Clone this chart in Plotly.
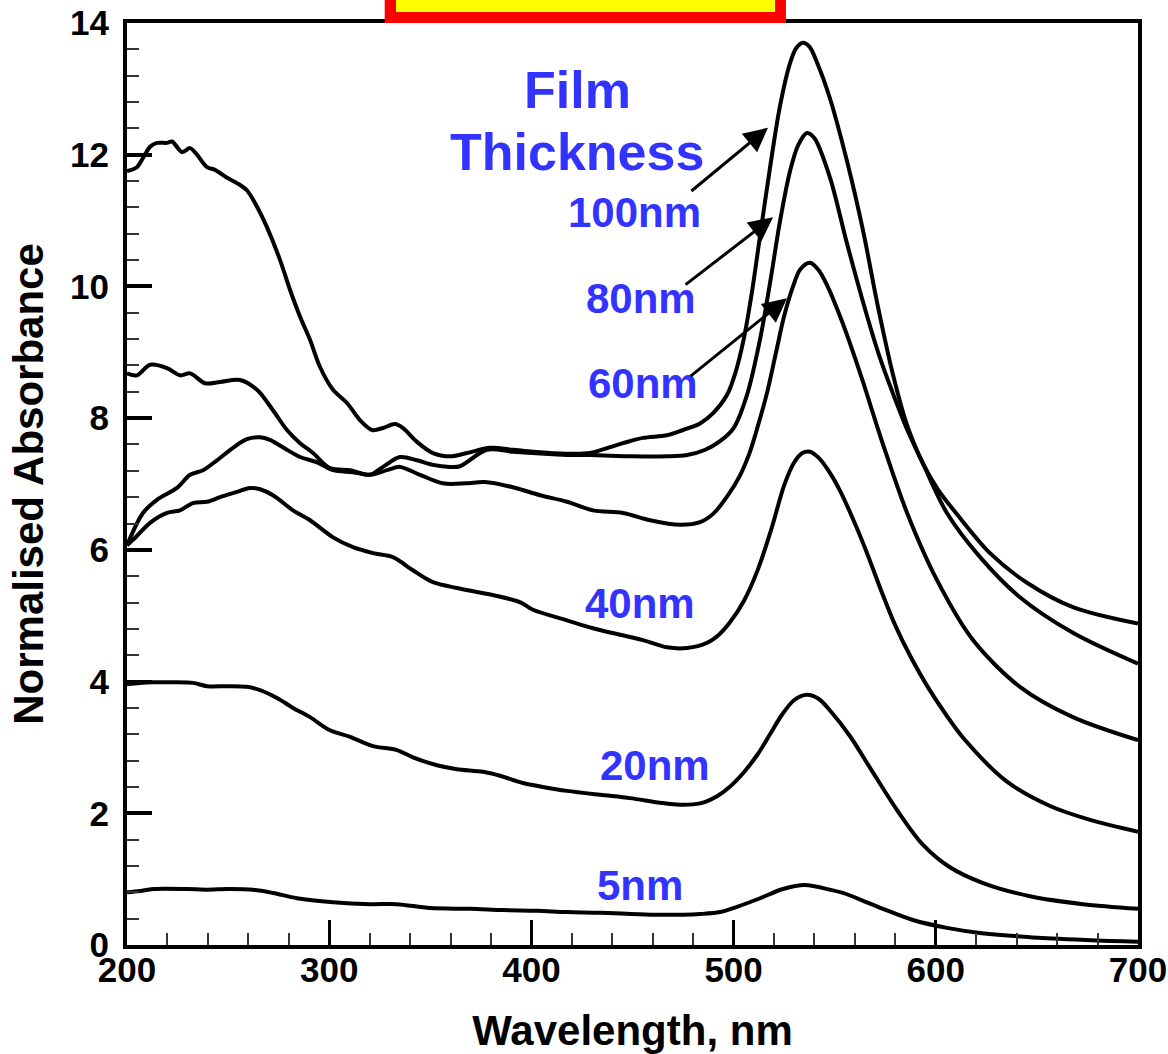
import plotly.graph_objects as go

# ---------------- data ----------------
wl_100 = [200, 204.9, 207.9, 211.4, 214.8, 219.8, 222.3, 227.2, 231.2, 234.6, 239.6, 243.5, 249.5, 255.9, 259.3,
          264.3, 269.2, 275.7, 280.6, 285.6, 290.5, 295.4, 301.9, 308.8, 315.2, 321.2, 326.6, 332.5, 336.5, 343.4,
          351.3, 359.7, 368.1, 379.5, 390.9, 400.8, 417.6, 429.0, 438.9, 445.3, 455.2, 467.1, 475.0, 483.4, 490.0,
          496.7, 501.0, 505.0, 509.0, 513.0, 518.0, 523.0, 528.0, 531.0, 534.3, 537.5, 541.0, 547.7, 556.1, 564.0,
          571.0, 578.5, 585.5, 593.5, 601.0, 610.5, 626.8, 645.1, 667.8, 700]
ab_100 = [11.75, 11.81, 11.95, 12.12, 12.18, 12.18, 12.2, 12.04, 12.10, 12.0, 11.81, 11.77, 11.65, 11.54, 11.46,
          11.21, 10.9, 10.4, 9.95, 9.54, 9.19, 8.78, 8.43, 8.23, 7.97, 7.82, 7.85, 7.91, 7.85, 7.64,
          7.47, 7.42, 7.47, 7.55, 7.52, 7.49, 7.46, 7.47, 7.56, 7.62, 7.70, 7.74, 7.82, 7.92, 8.08,
          8.35, 8.70, 9.20, 9.90, 10.75, 11.80, 12.75, 13.40, 13.62, 13.70, 13.64, 13.42, 12.85, 11.90, 10.85,
          9.75, 8.70, 7.92, 7.32, 6.92, 6.54, 5.95, 5.50, 5.13, 4.88]

wl_80 = [200, 204.9, 211.4, 219.8, 226.2, 231.2, 238.6, 246.0, 255.9, 264.3, 272.2, 279.1, 285.6, 292.0, 300.4,
         310.3, 320.2, 326.6, 335.0, 343.4, 351.3, 359.7, 364.7, 378.0, 390.9, 400.8, 417.6, 429.0, 450.2, 467.1,
         477.0, 486.0, 493.3, 500.0, 506.6, 513.1, 518.0, 523.0, 527.9, 532.0, 536.3, 540.0, 547.7, 556.1, 566.0,
         572.0, 578.5, 585.5, 593.5, 605.5, 621.9, 641.6, 667.8, 700]
ab_80 = [8.68, 8.65, 8.81, 8.76, 8.65, 8.68, 8.53, 8.55, 8.58, 8.43, 8.12, 7.82, 7.62, 7.47, 7.24,
         7.21, 7.14, 7.26, 7.41, 7.36, 7.29, 7.26, 7.27, 7.52, 7.49, 7.47, 7.44, 7.44, 7.42, 7.42,
         7.44, 7.52, 7.65, 7.85, 8.35, 9.20, 10.05, 11.00, 11.75, 12.15, 12.33, 12.25, 11.65, 10.65, 9.55,
         8.95, 8.40, 7.85, 7.32, 6.56, 5.89, 5.28, 4.74, 4.27]

wl_60 = [200, 207.9, 214.8, 224.7, 231.2, 237.6, 244.5, 252.4, 259.3, 265.8, 270.7, 279.1, 285.6, 294.0, 301.9,
         311.8, 320.2, 328.6, 335.0, 344.9, 356.2, 367.6, 377.0, 390.9, 404.3, 417.6, 430.5, 445.3, 458.7, 473.5,
         483.4, 490.0, 497.0, 503.0, 508.0, 512.0, 516.5, 521.0, 525.0, 529.4, 533.0, 537.8, 542.0, 546.2, 552.6,
         559.1, 564.0, 573.9, 585.8, 600.6, 618.4, 641.6, 667.8, 700]
ab_60 = [6.07, 6.56, 6.76, 6.94, 7.14, 7.21, 7.36, 7.55, 7.68, 7.71, 7.67, 7.52, 7.41, 7.33, 7.21,
         7.18, 7.14, 7.21, 7.26, 7.14, 7.01, 7.01, 7.03, 6.95, 6.83, 6.73, 6.60, 6.56, 6.45, 6.38,
         6.42, 6.55, 6.82, 7.12, 7.48, 7.88, 8.38, 9.00, 9.55, 10.00, 10.26, 10.36, 10.25, 10.02, 9.55,
         9.00, 8.55, 7.60, 6.56, 5.54, 4.63, 3.92, 3.46, 3.11]

wl_40 = [200, 204.5, 211.4, 219.8, 226.2, 232.6, 239.6, 246.0, 254.4, 260.8, 265.8, 272.2, 282.1, 290.5, 301.9,
         311.8, 321.7, 331.5, 341.4, 351.3, 363.2, 373.1, 383.0, 394.8, 400.8, 417.6, 430.5, 443.9, 455.2, 467.1,
         477.0, 486.9, 493.0, 498.2, 505.0, 512.0, 519.0, 525.0, 530.0, 534.0, 537.8, 542.0, 547.0, 552.6, 560.0,
         566.0, 573.0, 580.0, 588.0, 596.0, 605.0, 613.4, 635.2, 656.5, 676.3, 700]
ab_40 = [6.07, 6.2, 6.41, 6.56, 6.6, 6.71, 6.73, 6.80, 6.88, 6.94, 6.92, 6.83, 6.60, 6.45, 6.19,
         6.04, 5.95, 5.89, 5.69, 5.51, 5.42, 5.36, 5.30, 5.20, 5.09, 4.93, 4.81, 4.71, 4.63, 4.52,
         4.51, 4.59, 4.72, 4.90, 5.22, 5.70, 6.35, 6.98, 7.33, 7.47, 7.49, 7.40, 7.20, 6.90, 6.40,
         5.95, 5.38, 4.85, 4.35, 3.92, 3.50, 3.15, 2.48, 2.11, 1.90, 1.72]

wl_20 = [200, 206.4, 212.9, 222.7, 232.6, 239.6, 249.5, 259.3, 265.8, 274.2, 282.1, 290.5, 300.4, 310.3, 321.7,
         333.5, 341.4, 353.3, 363.2, 376.1, 384.5, 395.8, 405.7, 417.6, 433.9, 448.8, 463.6, 473.5, 483.4, 491.8,
         498.0, 505.0, 512.0, 518.0, 524.0, 530.0, 536.3, 542.0, 548.0, 557.6, 567.5, 580.8, 593.7, 607.0, 623.4,
         646.6, 672.8, 700]
ab_20 = [3.96, 3.98, 3.99, 3.99, 3.98, 3.93, 3.93, 3.92, 3.87, 3.75, 3.60, 3.46, 3.26, 3.16, 3.02,
         2.96, 2.85, 2.73, 2.67, 2.63, 2.57, 2.46, 2.40, 2.34, 2.28, 2.23, 2.16, 2.13, 2.15, 2.26,
         2.40, 2.62, 2.90, 3.20, 3.50, 3.72, 3.80, 3.74, 3.55, 3.17, 2.69, 2.05, 1.52, 1.18, 0.94,
         0.74, 0.62, 0.55]

wl_5 = [200, 206.4, 212.9, 229.7, 239.6, 249.5, 262.3, 272.2, 284.1, 301.9, 320.2, 333.5, 349.9, 369.6, 386.0,
        402.8, 417.6, 433.9, 458.7, 475.0, 483.4, 493.3, 501.7, 513.1, 524.4, 535.3, 547.7, 554.1, 571.4, 588.7,
        605.5, 622.8, 657.5, 700]
ab_5 = [0.80, 0.82, 0.85, 0.85, 0.84, 0.85, 0.84, 0.79, 0.71, 0.65, 0.62, 0.62, 0.56, 0.55, 0.53,
        0.52, 0.50, 0.49, 0.46, 0.46, 0.47, 0.50, 0.58, 0.71, 0.85, 0.91, 0.84, 0.79, 0.58, 0.38,
        0.26, 0.18, 0.10, 0.05]

series_wl = [wl_100, wl_80, wl_60, wl_40, wl_20, wl_5]
series_ab = [ab_100, ab_80, ab_60, ab_40, ab_20, ab_5]
series_names = ["100nm", "80nm", "60nm", "40nm", "20nm", "5nm"]

# label text and anchor (wavelength, absorbance)
label_text = ["Film", "Thickness", "100nm", "80nm", "60nm", "40nm", "20nm", "5nm"]
label_x = [423, 422.6, 451.2, 454.2, 455.2, 453.7, 461.1, 453.7]
label_y = [12.98, 12.04, 11.13, 9.82, 8.52, 5.18, 2.72, 0.90]
label_size = [52, 52, 42, 42, 42, 42, 42, 42]

# arrows: tail (x, y) -> head (x, y)
arrow_tail_x = [478.4, 475.5, 478.0]
arrow_tail_y = [11.43, 10.01, 8.62]
arrow_head_x = [517.0, 519.5, 526.4]
arrow_head_y = [12.41, 11.05, 9.82]

x_ticks = [200, 300, 400, 500, 600, 700]
y_ticks = [0, 2, 4, 6, 8, 10, 12, 14]

FONT = "Liberation Sans, Arial, sans-serif"
BLUE = "#3333ff"

fig = go.Figure()
for wl, ab, name in zip(series_wl, series_ab, series_names):
    fig.add_trace(go.Scatter(x=wl, y=ab, mode="lines", name=name,
                             line=dict(color="black", width=4, shape="spline", smoothing=0.9),
                             showlegend=False, hoverinfo="skip"))

annotations = []
for t, x, y, s in zip(label_text, label_x, label_y, label_size):
    annotations.append(dict(x=x, y=y, xref="x", yref="y", text=t, showarrow=False,
                            font=dict(family=FONT, size=s, color=BLUE, weight="bold"),
                            xanchor="center", yanchor="middle"))
for tx, ty, hx, hy in zip(arrow_tail_x, arrow_tail_y, arrow_head_x, arrow_head_y):
    annotations.append(dict(x=hx, y=hy, ax=tx, ay=ty, xref="x", yref="y", axref="x", ayref="y",
                            text="", showarrow=True, arrowhead=2, arrowsize=1.6, arrowwidth=3,
                            arrowcolor="black", standoff=0))

fig.update_layout(
    width=1168, height=1054,
    margin=dict(l=127, r=30, t=23, b=109, autoexpand=False),
    paper_bgcolor="white", plot_bgcolor="white",
    font=dict(family=FONT, color="black"),
    annotations=annotations,
    shapes=[
        dict(type="rect", xref="paper", yref="paper", x0=0.2549, x1=0.6518, y0=1.0, y1=1.03,
             fillcolor="#ff0000", line=dict(width=0), layer="above"),
        dict(type="rect", xref="paper", yref="paper", x0=0.2661, x1=0.641, y0=1.012, y1=1.03,
             fillcolor="#ffff00", line=dict(width=0), layer="above"),
    ],
)

fig.update_xaxes(
    range=[200, 700], tickvals=x_ticks, ticktext=[str(v) for v in x_ticks],
    ticks="inside", ticklen=25, tickwidth=3, tickcolor="black",
    minor=dict(dtick=20, ticks="inside", ticklen=12, tickwidth=1.5, tickcolor="#333333", showgrid=False),
    showline=True, linewidth=4, linecolor="black", mirror=True,
    showgrid=False, zeroline=False,
    tickfont=dict(family=FONT, size=35, color="black", weight="bold"),
    ticklabelstandoff=-9,
    title=dict(text="Wavelength, nm", font=dict(family=FONT, size=42, color="black", weight="bold"),
               standoff=32),
)
fig.update_yaxes(
    range=[0, 14], tickvals=y_ticks, ticktext=[str(v) for v in y_ticks],
    ticks="inside", ticklen=25, tickwidth=4, tickcolor="black",
    minor=dict(dtick=0.4, ticks="inside", ticklen=12, tickwidth=1.5, tickcolor="#333333", showgrid=False),
    showline=True, linewidth=4, linecolor="black", mirror=True,
    showgrid=False, zeroline=False,
    tickfont=dict(family=FONT, size=35, color="black", weight="bold"),
    ticklabelstandoff=7,
    title=dict(text="Normalised Absorbance", font=dict(family=FONT, size=42, color="black", weight="bold"),
               standoff=14),
)

fig.write_html("out.html")
